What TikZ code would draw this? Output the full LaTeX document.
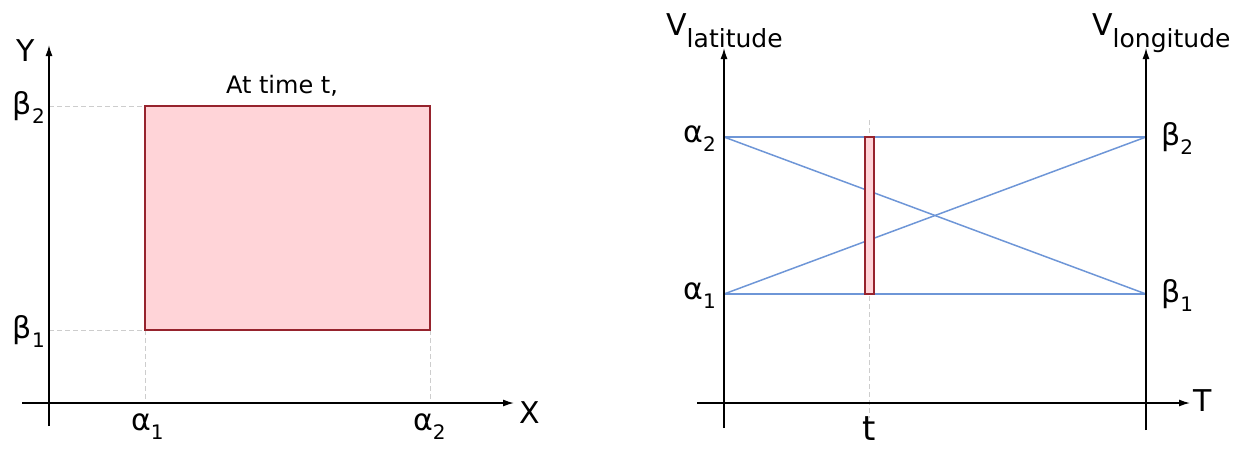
\documentclass[tikz,border=0pt]{standalone}
\usepackage{fontspec}
\setmainfont{DejaVu Sans}
\usetikzlibrary{arrows.meta}
\definecolor{boxfill}{RGB}{255,212,216}
\definecolor{boxline}{RGB}{150,35,45}
\definecolor{linkblue}{RGB}{110,150,215}
\definecolor{guidegray}{RGB}{205,205,205}
\newcommand{\lbl}[2]{#1\raisebox{-9pt}{\fontsize{20}{20}\selectfont #2}}
\newcommand{\vlbl}[2]{#1\raisebox{-12pt}{\fontsize{25}{25}\selectfont #2}}
\tikzset{
  axis/.style={line width=1.4pt,-{Latex[length=11pt,width=7pt]}},
  guide/.style={guidegray,line width=1pt,dash pattern=on 5pt off 3pt},
  link/.style={linkblue,line width=1.5pt},
  region/.style={draw=boxline,fill=boxfill,line width=1.4pt},
  lab/.style={font=\fontsize{30}{30}\selectfont,inner sep=0pt},
}
\begin{document}
\begin{tikzpicture}[x=1pt,y=-1pt]
 \useasboundingbox (0,0) rectangle (1242,448);
 % left panel: X-Y plane
 \coordinate (ybot) at (49,426);
 \coordinate (ytop) at (49,45);
 \coordinate (xleft) at (22,403);
 \coordinate (xright) at (514,403);
 \coordinate (rlo) at (145,330);
 \coordinate (rhi) at (430,106);
 \draw[guide] (ytop |- rhi) -- (rlo |- rhi);
 \draw[guide] (ytop |- rlo) -- (rlo);
 \draw[guide] (rlo) -- (rlo |- xleft);
 \draw[guide] (rhi |- rlo) -- (rhi |- xleft);
 \draw[region] (rlo) rectangle (rhi);
 \draw[axis] (ybot) -- (ytop);
 \draw[axis] (xleft) -- (xright);
 \node[lab] (ylab) at (26,51) {Y};
 \node[lab] (xlab) at (530,413) {X};
 \node[lab,anchor=base east] (beta2) at (45,114) {\lbl{β}{2}};
 \node[lab,anchor=base east] (beta1) at (45,338) {\lbl{β}{1}};
 \node[lab,anchor=base west] (alpha1) at (131,430) {\lbl{α}{1}};
 \node[lab,anchor=base west] (alpha2) at (413,430) {\lbl{α}{2}};
 \node[font=\fontsize{24}{24}\selectfont,anchor=base] (when) at (282,93) {At time t,};
 % right panel: parallel axes
 \coordinate (latbot) at (724,428);
 \coordinate (lattop) at (724,48);
 \coordinate (lonbot) at (1146,430);
 \coordinate (lontop) at (1146,48);
 \coordinate (tleft) at (697,403);
 \coordinate (tright) at (1190,403);
 \coordinate (a2) at (724,137);
 \coordinate (a1) at (724,294);
 \coordinate (b2) at (1146,137);
 \coordinate (b1) at (1146,294);
 \coordinate (tup) at (869,120);
 \coordinate (tdown) at (869,418);
 \coordinate (barlo) at (865,294);
 \coordinate (barhi) at (874,137);
 \draw[guide] (tup) -- (tdown);
 \draw[link] (a2) -- (b2);
 \draw[link] (a1) -- (b1);
 \draw[link] (a2) -- (b1);
 \draw[link] (a1) -- (b2);
 \draw[region] (barlo) rectangle (barhi);
 \draw[axis] (latbot) -- (lattop);
 \draw[axis] (lonbot) -- (lontop);
 \draw[axis] (tleft) -- (tright);
 \node[lab,anchor=base west] (vlat) at (666,35) {\vlbl{V}{latitude}};
 \node[lab,anchor=base west] (vlon) at (1092,35) {\vlbl{V}{longitude}};
 \node[lab] (tlab) at (1203,401) {T};
 \node[lab,anchor=north,font=\fontsize{34}{34}\selectfont] (tick) at (869,416) {t};
 \node[lab,anchor=base east] (alpha2r) at (716,142) {\lbl{α}{2}};
 \node[lab,anchor=base east] (alpha1r) at (716,299) {\lbl{α}{1}};
 \node[lab,anchor=base west] (beta2r) at (1161,145) {\lbl{β}{2}};
 \node[lab,anchor=base west] (beta1r) at (1161,302) {\lbl{β}{1}};
\end{tikzpicture}
\end{document}
